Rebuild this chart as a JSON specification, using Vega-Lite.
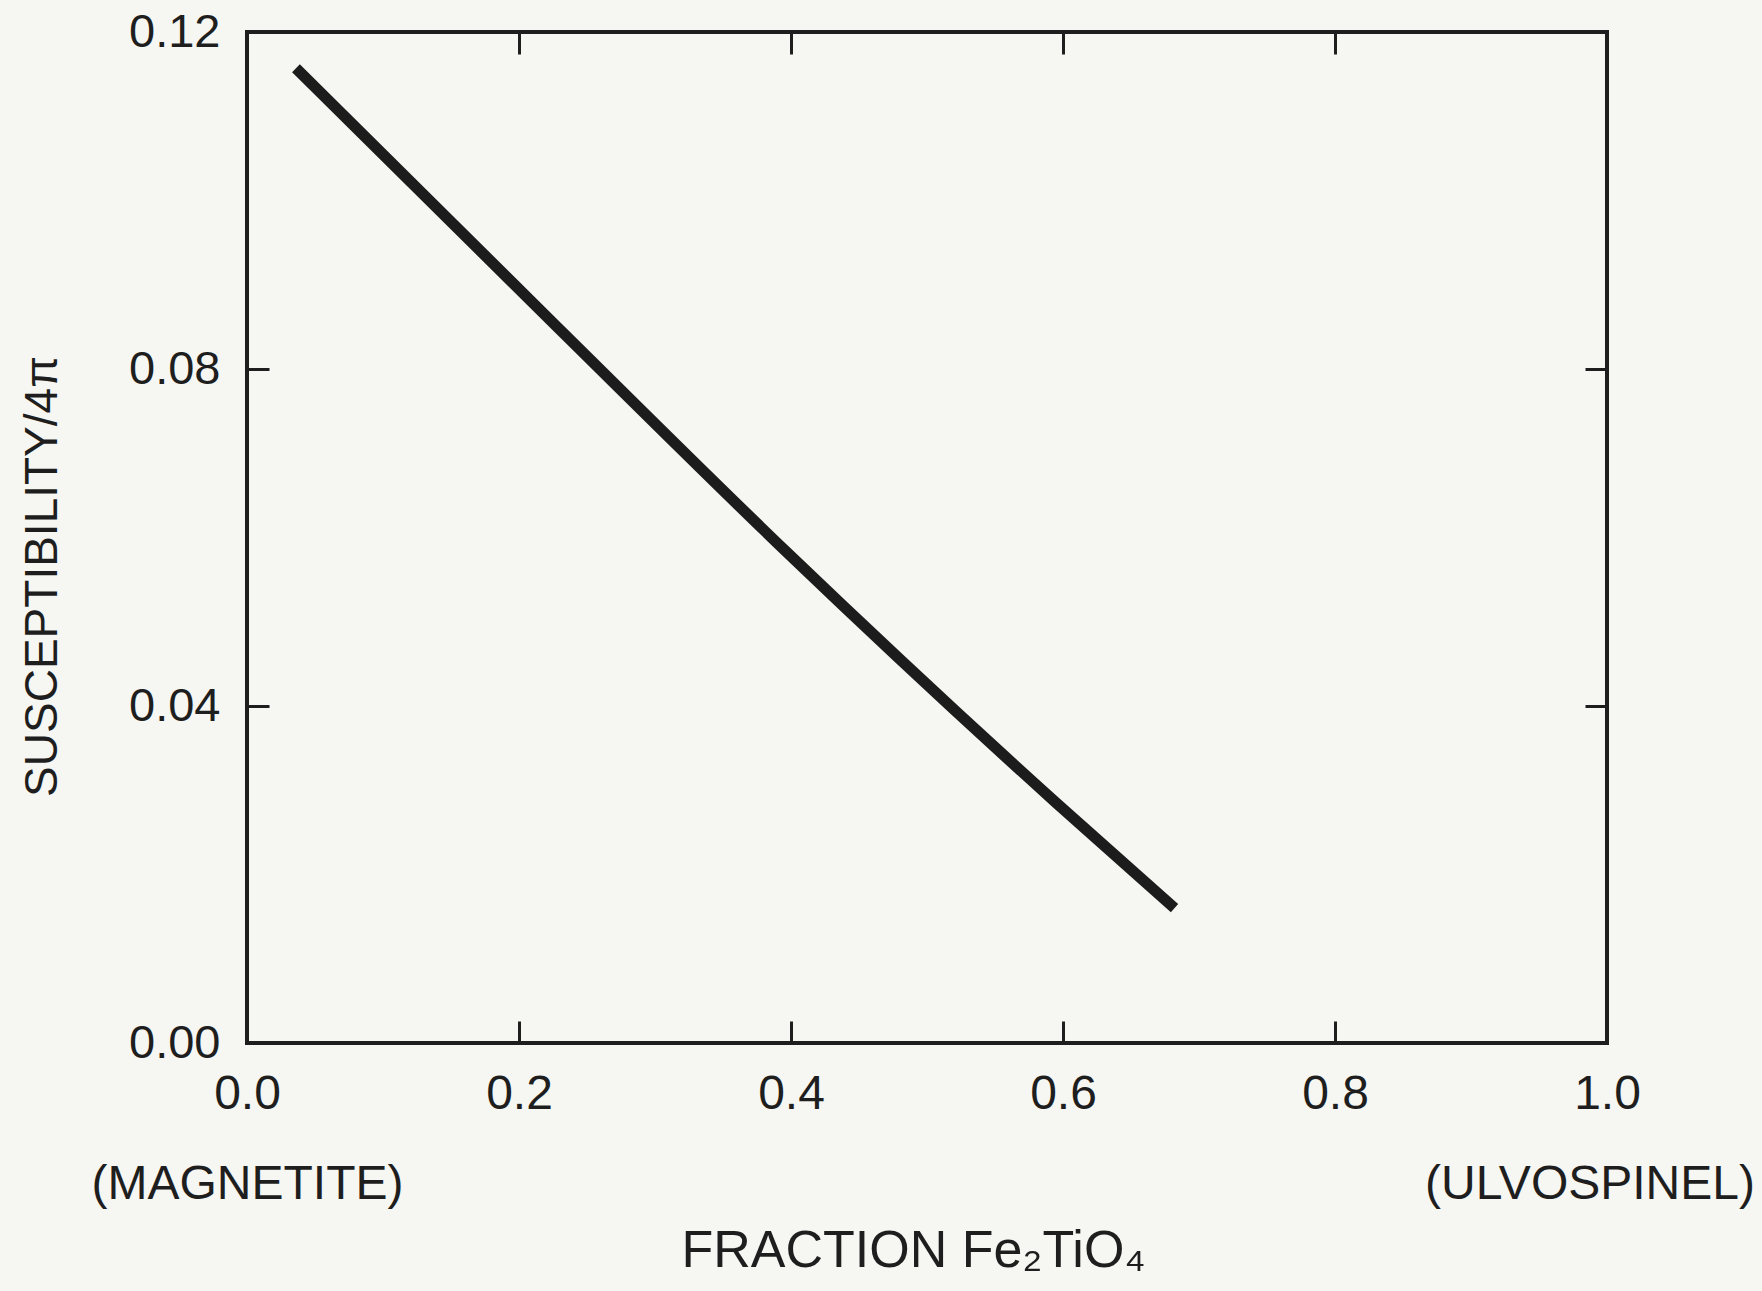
{
  "$schema": "https://vega.github.io/schema/vega-lite/v6.json",
  "width": 1360,
  "height": 1011,
  "autosize": {"type": "none"},
  "padding": {"left": 247, "top": 32, "right": 155, "bottom": 248},
  "background": "#f6f6f2",
  "config": {
    "view": {"stroke": "#1e1e1e", "strokeWidth": 4, "fill": "#f6f6f2"},
    "axis": {
      "domain": false,
      "grid": false,
      "tickColor": "#1e1e1e",
      "tickWidth": 3,
      "tickSize": -22,
      "labelFont": "Liberation Sans",
      "titleFont": "Liberation Sans",
      "labelColor": "#1e1e1e",
      "titleColor": "#1e1e1e",
      "labelFontSize": 47,
      "titleFontSize": 46,
      "titleFontWeight": "normal",
      "labelLimit": 0,
      "titleLimit": 0
    }
  },
  "data": {
    "values": [
      {"fraction": 0.036, "susceptibility": 0.1157},
      {"fraction": 0.228, "susceptibility": 0.0850},
      {"fraction": 0.396, "susceptibility": 0.0584},
      {"fraction": 0.595, "susceptibility": 0.0285},
      {"fraction": 0.682, "susceptibility": 0.0160}
    ]
  },
  "layer": [
    {
      "mark": {"type": "line", "strokeWidth": 11, "color": "#1c1c1c", "strokeCap": "butt", "interpolate": "monotone"},
      "encoding": {
        "x": {
          "field": "fraction",
          "type": "quantitative",
          "scale": {"domain": [0, 1], "nice": false, "zero": false},
          "axis": {
            "orient": "bottom",
            "values": [0, 0.2, 0.4, 0.6, 0.8, 1],
            "format": ".1f",
            "labelExpr": "datum.value == 0 ? ['0.0', '(MAGNETITE)'] : datum.value == 1 ? ['1.0', '(ULVOSPINEL)\u2800'] : datum.label",
            "labelFontSize": 48,
            "labelLineHeight": 90,
            "labelPadding": 49,
            "labelFlush": false,
            "labelOverlap": false,
            "labelLimit": 0,
            "title": "FRACTION Fe₂TiO₄",
            "titleFontSize": 52,
            "titleX": 666,
            "titleY": 223,
            "titleAlign": "center",
            "titleBaseline": "alphabetic",
            "titleAngle": 0
          }
        },
        "y": {
          "field": "susceptibility",
          "type": "quantitative",
          "scale": {"domain": [0, 0.12], "nice": false, "zero": false},
          "axis": {
            "orient": "left",
            "values": [0, 0.04, 0.08, 0.12],
            "format": ".2f",
            "labelPadding": 49,
            "labelFlush": false,
            "labelOverlap": false,
            "title": "SUSCEPTIBILITY/4π",
            "titleX": -191,
            "titleY": 544,
            "titleAngle": -90,
            "titleAlign": "center",
            "titleBaseline": "alphabetic"
          }
        }
      }
    },
    {
      "mark": {"type": "line", "strokeOpacity": 0},
      "encoding": {
        "x": {
          "field": "fraction",
          "type": "quantitative",
          "axis": {"orient": "top", "values": [0.2, 0.4, 0.6, 0.8], "labels": false, "title": null}
        },
        "y": {
          "field": "susceptibility",
          "type": "quantitative",
          "axis": {"orient": "right", "values": [0.04, 0.08], "labels": false, "title": null}
        }
      }
    }
  ],
  "resolve": {"axis": {"x": "independent", "y": "independent"}}
}
